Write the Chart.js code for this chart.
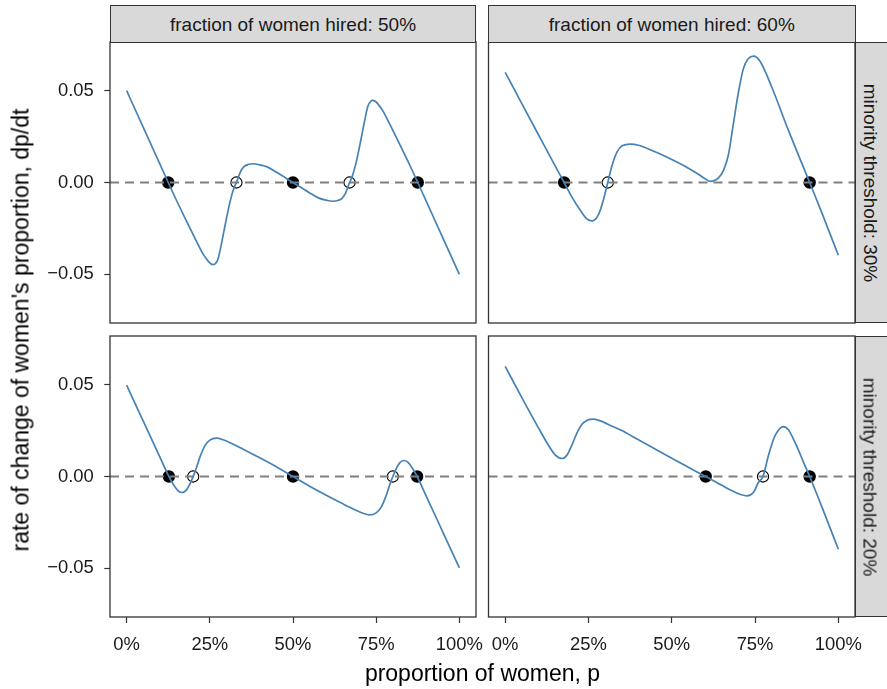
<!DOCTYPE html>
<html><head><meta charset="utf-8">
<script src="https://cdn.jsdelivr.net/npm/chart.js@4.4.1/dist/chart.umd.min.js"></script>
<style>
html,body{margin:0;padding:0;background:#fff;}
body{width:887px;height:689px;position:relative;overflow:hidden;font-family:"Liberation Sans",Arial,Helvetica,sans-serif;}
canvas{position:absolute;left:0;top:0;}
.strip{position:absolute;background:#d9d9d9;border:1px solid #333;box-sizing:border-box;color:#1a1a1a;font-size:19px;}
.strip span{position:absolute;left:50%;top:50%;transform:translate(-50%,-50%);white-space:nowrap;line-height:1;}
.rstrip span{left:calc(50% - 3.5px);transform:translate(-50%,-50%) rotate(90deg);}
.title{position:absolute;white-space:nowrap;line-height:1;font-size:23px;color:#000;transform:translate(-50%,-50%);}
</style></head><body>
<canvas id="c0" width="887" height="689"></canvas>
<canvas id="c1" width="887" height="689"></canvas>
<canvas id="c2" width="887" height="689"></canvas>
<canvas id="c3" width="887" height="689"></canvas>
<div id="overlay"></div>
<script>
// ---- labels ----
const hiredLabels = ["fraction of women hired: 50%", "fraction of women hired: 60%"];
const thresholdLabels = ["minority threshold: 30%", "minority threshold: 20%"];
const xTitle = "proportion of women, p";
const yTitle = "rate of change of women's proportion, dp/dt";
const xTickValues = [0, 0.25, 0.5, 0.75, 1];
const xTickLabels = ["0%", "25%", "50%", "75%", "100%"];
const yTickValues = [-0.05, 0, 0.05];
const yTickLabels = ["\u22120.05", "0.00", "0.05"];

// ---- hired 50%, threshold 30% ----
const p_h50_t30 = [0, 0.05, 0.10, 0.125, 0.15, 0.18, 0.21, 0.23, 0.245, 0.253, 0.26, 0.267, 0.275, 0.282, 0.292, 0.302, 0.312, 0.322, 0.33, 0.342, 0.352, 0.365, 0.382, 0.40, 0.422, 0.452, 0.50, 0.548, 0.578, 0.60, 0.618, 0.635, 0.648, 0.658, 0.67, 0.678, 0.688, 0.698, 0.708, 0.718, 0.725, 0.733, 0.74, 0.747, 0.755, 0.77, 0.79, 0.82, 0.85, 0.875, 0.90, 0.95, 1.0];
const rate_h50_t30 = [0.050, 0.030, 0.010, 0.0, -0.0098, -0.021, -0.032, -0.039, -0.0428, -0.0442, -0.0447, -0.0441, -0.0415, -0.036, -0.0269, -0.0178, -0.0096, -0.0033, 0.0, 0.0058, 0.0085, 0.0098, 0.0102, 0.0096, 0.0085, 0.0054, 0.0, -0.0054, -0.0085, -0.0096, -0.0102, -0.0098, -0.0085, -0.0058, 0.0, 0.0033, 0.0096, 0.0178, 0.0269, 0.036, 0.0415, 0.0441, 0.0447, 0.0442, 0.0428, 0.039, 0.032, 0.021, 0.0098, 0.0, -0.010, -0.030, -0.050];
const stable_h50_t30 = [0.125, 0.5, 0.875];
const unstable_h50_t30 = [0.33, 0.67];

// ---- hired 60%, threshold 30% ----
const p_h60_t30 = [0, 0.05, 0.10, 0.15, 0.177, 0.20, 0.225, 0.245, 0.261, 0.28, 0.296, 0.308, 0.321, 0.336, 0.351, 0.376, 0.40, 0.45, 0.50, 0.55, 0.58, 0.60, 0.616, 0.63, 0.64, 0.655, 0.67, 0.685, 0.70, 0.715, 0.73, 0.746, 0.765, 0.80, 0.85, 0.90, 0.914, 0.95, 1.0];
const rate_h60_t30 = [0.060, 0.043, 0.026, 0.009, 0.0, -0.0078, -0.015, -0.0198, -0.0209, -0.0175, -0.0087, 0.0, 0.0094, 0.0167, 0.0200, 0.0209, 0.0203, 0.0167, 0.0125, 0.0078, 0.0045, 0.0020, 0.0006, 0.0012, 0.0025, 0.0065, 0.015, 0.032, 0.049, 0.062, 0.0675, 0.0688, 0.066, 0.052, 0.0285, 0.0062, 0.0, -0.0163, -0.0396];
const stable_h60_t30 = [0.177, 0.914];
const unstable_h60_t30 = [0.308];

// ---- hired 50%, threshold 20% ----
const p_h50_t20 = [0, 0.05, 0.10, 0.127, 0.14, 0.155, 0.167, 0.18, 0.19, 0.20, 0.21, 0.22, 0.235, 0.25, 0.27, 0.29, 0.32, 0.35, 0.40, 0.45, 0.50, 0.55, 0.60, 0.65, 0.68, 0.71, 0.73, 0.75, 0.765, 0.78, 0.79, 0.80, 0.81, 0.82, 0.833, 0.845, 0.86, 0.873, 0.90, 0.95, 1.0];
const rate_h50_t20 = [0.0497, 0.0301, 0.0105, 0.0, -0.0042, -0.0078, -0.0087, -0.0073, -0.0042, 0.0, 0.0049, 0.0104, 0.0167, 0.0198, 0.0209, 0.0200, 0.0176, 0.0149, 0.0102, 0.0053, 0.0, -0.0053, -0.0102, -0.0149, -0.0176, -0.0200, -0.0209, -0.0198, -0.0167, -0.0104, -0.0049, 0.0, 0.0042, 0.0073, 0.0087, 0.0078, 0.0042, 0.0, -0.0105, -0.0301, -0.0497];
const stable_h50_t20 = [0.127, 0.5, 0.873];
const unstable_h50_t20 = [0.20, 0.80];

// ---- hired 60%, threshold 20% ----
const p_h60_t20 = [0, 0.05, 0.10, 0.13, 0.15, 0.171, 0.185, 0.20, 0.215, 0.23, 0.245, 0.266, 0.29, 0.32, 0.35, 0.40, 0.45, 0.50, 0.55, 0.602, 0.65, 0.70, 0.726, 0.745, 0.76, 0.774, 0.79, 0.81, 0.835, 0.85, 0.865, 0.88, 0.895, 0.914, 0.95, 1.0];
const rate_h60_t20 = [0.060, 0.043, 0.0265, 0.017, 0.0118, 0.0098, 0.0115, 0.017, 0.0235, 0.0283, 0.0305, 0.0312, 0.0300, 0.0275, 0.0250, 0.0200, 0.0150, 0.0100, 0.0050, 0.0, -0.0048, -0.0093, -0.0105, -0.0087, -0.0033, 0.0, 0.0113, 0.0222, 0.0272, 0.0255, 0.0205, 0.0145, 0.0080, 0.0, -0.0163, -0.0396];
const stable_h60_t20 = [0.602, 0.914];
const unstable_h60_t20 = [0.774];

// ---- layout ----
const W = 887, H = 689;
const FONT = '"Liberation Sans", Arial, Helvetica, sans-serif';
const Y_AXIS_W = 62, X_AXIS_H = 44;
const panels = [
  {id:'c0', rect:{left:110, right:476, top:42, bottom:323}, p:p_h50_t30, r:rate_h50_t30, s:stable_h50_t30, u:unstable_h50_t30, showX:false, showY:true},
  {id:'c1', rect:{left:488.5, right:855, top:42, bottom:323}, p:p_h60_t30, r:rate_h60_t30, s:stable_h60_t30, u:unstable_h60_t30, showX:false, showY:false},
  {id:'c2', rect:{left:110, right:476, top:336, bottom:617}, p:p_h50_t20, r:rate_h50_t20, s:stable_h50_t20, u:unstable_h50_t20, showX:true, showY:true},
  {id:'c3', rect:{left:488.5, right:855, top:336, bottom:617}, p:p_h60_t20, r:rate_h60_t20, s:stable_h60_t20, u:unstable_h60_t20, showX:true, showY:false}
];

const borderPlugin = {
  id: 'panelBorder',
  afterDatasetsDraw(chart) {
    const a = chart.chartArea, ctx = chart.ctx;
    ctx.save();
    ctx.strokeStyle = '#333';
    ctx.lineWidth = 1.3;
    ctx.strokeRect(a.left, a.top, a.right - a.left, a.bottom - a.top);
    ctx.restore();
  }
};

function makeChart(cfg) {
  const r = cfg.rect;
  new Chart(document.getElementById(cfg.id), {
    type: 'line',
    data: {
      datasets: [
        {data: cfg.p.map((x, i) => ({x: x, y: cfg.r[i]})), borderColor: '#4682b4', borderWidth: 1.7,
         pointRadius: 0, cubicInterpolationMode: 'monotone', fill: false, order: 0},
        {data: [{x: -0.05, y: 0}, {x: 1.05, y: 0}], borderColor: '#808080', borderWidth: 1.8,
         borderDash: [9, 6], pointRadius: 0, fill: false, order: 1},
        {data: cfg.s.map(x => ({x: x, y: 0})), showLine: false, pointRadius: 6.2,
         pointBackgroundColor: '#000', pointBorderColor: '#000', pointBorderWidth: 0, order: 2},
        {data: cfg.u.map(x => ({x: x, y: 0})), showLine: false, pointRadius: 5.6,
         pointBackgroundColor: '#fff', pointBorderColor: '#000', pointBorderWidth: 1.1, order: 2}
      ]
    },
    options: {
      responsive: false, animation: false, devicePixelRatio: 1, events: [],
      layout: {padding: {
        left: cfg.showY ? r.left - Y_AXIS_W : r.left,
        right: W - r.right,
        top: r.top,
        bottom: cfg.showX ? H - r.bottom - X_AXIS_H : H - r.bottom
      }},
      plugins: {legend: {display: false}, tooltip: {enabled: false}, title: {display: false}},
      scales: {
        x: {
          type: 'linear', min: -0.05, max: 1.05, display: cfg.showX,
          afterBuildTicks: s => { s.ticks = xTickValues.map(v => ({value: v})); },
          afterFit: s => { s.height = cfg.showX ? X_AXIS_H : 0; },
          ticks: {callback: v => xTickLabels[xTickValues.indexOf(v)], color: '#1a1a1a',
                  font: {family: FONT, size: 18.4}, padding: 10.5, maxRotation: 0, minRotation: 0, autoSkip: false},
          grid: {display: true, drawOnChartArea: false, drawTicks: true, tickLength: 6, tickColor: '#333', tickWidth: 1.2},
          border: {display: false}
        },
        y: {
          type: 'linear', min: -0.0765, max: 0.0765, display: cfg.showY,
          afterBuildTicks: s => { s.ticks = yTickValues.map(v => ({value: v})); },
          afterFit: s => { s.width = cfg.showY ? Y_AXIS_W : 0; },
          ticks: {callback: v => yTickLabels[yTickValues.indexOf(v)], color: '#1a1a1a',
                  font: {family: FONT, size: 18.4}, padding: 10.5, autoSkip: false},
          grid: {display: true, drawOnChartArea: false, drawTicks: true, tickLength: 5.7, tickColor: '#333', tickWidth: 1.2},
          border: {display: false}
        }
      }
    },
    plugins: [borderPlugin]
  });
}
panels.forEach(makeChart);

// ---- strips and titles (HTML text) ----
const ov = document.getElementById('overlay');
function addDiv(cls, style, text) {
  const d = document.createElement('div');
  d.className = cls;
  Object.assign(d.style, style);
  if (cls.indexOf('strip') >= 0) {
    const s = document.createElement('span'); s.textContent = text; d.appendChild(s);
  } else d.textContent = text;
  ov.appendChild(d);
  return d;
}
addDiv('strip', {left: '110px', top: '5px', width: '366px', height: '37.5px'}, hiredLabels[0]);
addDiv('strip', {left: '488px', top: '5px', width: '367.5px', height: '37.5px'}, hiredLabels[1]);
addDiv('strip rstrip', {left: '854.5px', top: '42px', width: '37px', height: '281px'}, thresholdLabels[0]);
addDiv('strip rstrip', {left: '854.5px', top: '336px', width: '37px', height: '281px'}, thresholdLabels[1]);
addDiv('title', {left: '482.5px', top: '673px'}, xTitle);
addDiv('title', {left: '20.5px', top: '329.5px', transform: 'translate(-50%,-50%) rotate(-90deg)'}, yTitle);
</script>
</body></html>
